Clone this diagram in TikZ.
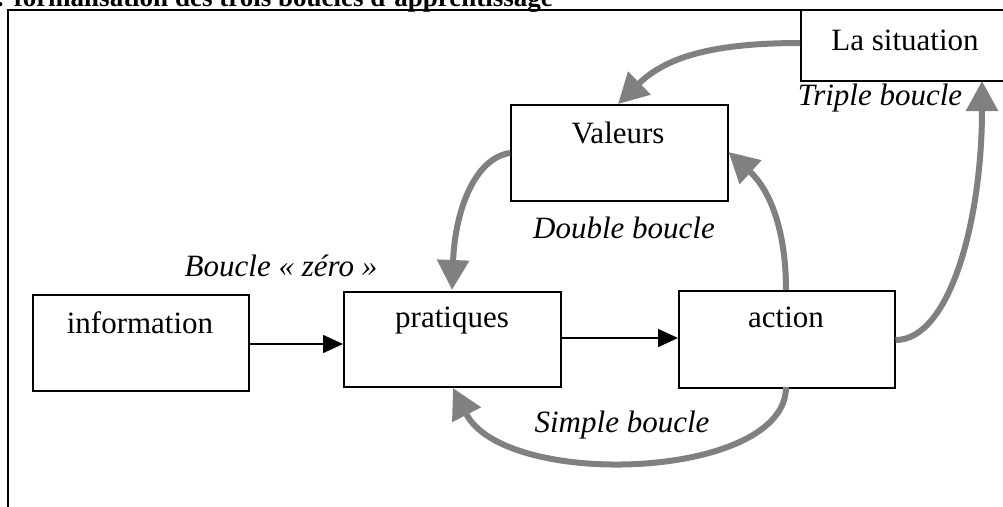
\documentclass[tikz,border=0pt]{standalone}
\usepackage{fontspec}
\setmainfont{Liberation Serif}
\usetikzlibrary{arrows.meta}
\definecolor{loopgray}{RGB}{128,128,128}
\begin{document}
\begin{tikzpicture}[x=1pt,y=-1pt,
  boxnode/.style={draw=black,line width=1.5pt,rectangle,anchor=north west,inner sep=0pt,fill=white},
  boxtext/.style={anchor=base,inner sep=0pt,font=\fontsize{31}{37}\selectfont},
  looptext/.style={anchor=base,inner sep=0pt,font=\fontsize{31}{37}\selectfont\itshape},
  grayarrow/.style={draw=loopgray,line width=6pt,-{Triangle[length=30pt,width=31pt]}},
  blackarrow/.style={draw=black,line width=1.5pt,-{Triangle[length=20pt,width=18pt]}}]
\clip (0,0) rectangle (1003,506);
\fill[white] (0,0) rectangle (1003,506);
% title (cut at the top)
\node[anchor=base east,inner sep=0pt,font=\fontsize{27}{32}\selectfont\bfseries] (title) at (553,6) {1: formalisation des trois boucles d'apprentissage};
% frame
\coordinate (ftl) at (8,10);
\coordinate (ftr) at (1010,10);
\coordinate (fbl) at (8,515);
\draw[line width=2pt] (fbl) -- (ftl) -- (ftr);
% boxes
\node[boxnode,minimum width=220pt,minimum height=71pt] (sit) at (800,9) {};
\node[boxnode,minimum width=217pt,minimum height=96pt] (val) at (510,104) {};
\node[boxnode,minimum width=216pt,minimum height=96pt] (info) at (32,294) {};
\node[boxnode,minimum width=217pt,minimum height=95pt] (prat) at (343,291) {};
\node[boxnode,minimum width=216pt,minimum height=97pt] (act) at (678,290) {};
% box texts
\node[boxtext] (tsit) at (905,50) {La situation};
\node[boxtext] (tval) at (618,143) {Valeurs};
\node[boxtext] (tinfo) at (140,333) {information};
\node[boxtext] (tprat) at (452,327) {pratiques};
\node[boxtext] (tact) at (786,327) {action};
% loop labels
\node[looptext] (ltriple) at (880,105) {Triple boucle};
\node[looptext] (ldouble) at (624,238) {Double boucle};
\node[looptext] (lzero) at (281,276) {Boucle « zéro »};
\node[looptext] (lsimple) at (622,432) {Simple boucle};
% black arrows
\draw[blackarrow] (info.east |- 0,344) -- (prat.west |- 0,344);
\draw[blackarrow] (prat.east |- 0,338) -- (act.west |- 0,338);
% gray loops
\draw[grayarrow] (sit.west |- 0,43) .. controls (710,43) and (665,58) .. (618,104);
\draw[grayarrow] (val.west |- 0,153) .. controls (475,158) and (455,210) .. (452,290);
\draw[grayarrow] (786,290) .. controls (786,230) and (770,190) .. (val.east |- 0,152);
\draw[grayarrow] (act.east |- 0,340) .. controls (950,340) and (982,220) .. (982,81);
\draw[grayarrow] (786,387) .. controls (786,480) and (505,490) .. (453,388);
\end{tikzpicture}
\end{document}
